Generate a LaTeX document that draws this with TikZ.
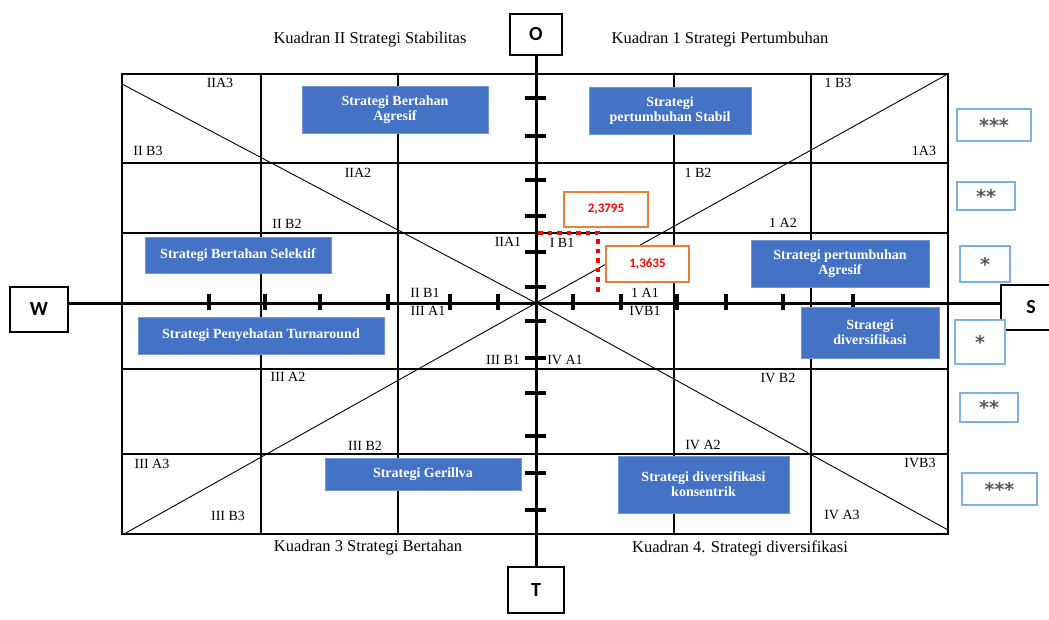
\documentclass[tikz,border=0pt]{standalone}
\usepackage{fontspec}
\setmainfont{Liberation Serif}
\newfontfamily\calibri{Carlito}
\newfontfamily\dejavu{DejaVu Sans}
\usepackage{tikz}
\definecolor{biru}{HTML}{4472C4}
\definecolor{birumuda}{HTML}{7FB0E0}
\definecolor{oranye}{HTML}{ED7D31}
\definecolor{abu}{HTML}{595959}

\tikzset{
  garis/.style={line width=1.3pt},
  diag/.style={line width=0.9pt},
  sumbu/.style={line width=3pt},
  tik/.style={line width=3.5pt},
  lab/.style={font=\fontsize{14}{16}\selectfont, inner sep=0pt},
  judul/.style={font=\fontsize{16.5}{18}\selectfont, inner sep=0pt},
  strat/.style={draw=biru!75!white, line width=0.8pt, fill=biru, text=white, align=center,
    font=\bfseries\fontsize{14}{15}\selectfont, inner sep=1pt},
  nilai/.style={draw=oranye, line width=1.2pt, fill=white, text=red,
    font=\calibri\bfseries\fontsize{13}{15}\selectfont},
  bintang/.style={draw=birumuda, line width=1.5pt, fill=white, text=abu,
    font=\dejavu\bfseries\fontsize{19}{20}\selectfont},
  huruf/.style={draw, line width=2.5pt, fill=white, font=\calibri\bfseries\fontsize{20}{22}\selectfont}
}
\newcommand{\bint}[1]{\raisebox{-0.65ex}{#1}}

\begin{document}
\begin{tikzpicture}[x=1pt,y=-1pt]
  \useasboundingbox (0,0) rectangle (1049,620);
  \coordinate (pusat) at (536,303);

  % kotak kuadran
  \draw[garis] (122,74) rectangle (948,534);
  \foreach \x in {261,398,674,811} \draw[garis] (\x,74) -- (\x,534);
  \foreach \y in {163,233,369,454} \draw[garis] (122,\y) -- (948,\y);

  % garis diagonal
  \draw[diag] (122,84) -- (pusat) -- (948,530);
  \draw[diag] (124,534) -- (pusat) -- (946,75);

  % sumbu
  \node[huruf, minimum width=52, minimum height=41] (O) at (536,34.5) {O};
  \node[huruf, minimum width=56, minimum height=46] (T) at (536,590) {T};
  \node[huruf, minimum width=58, minimum height=45] (W) at (39,309.5) {W};
  \node[huruf, minimum width=60, minimum height=45] (S) at (1031,307.5) {S};
  \draw[sumbu] (W.east |- pusat) -- (S.west |- pusat);
  \draw[sumbu] (O.south) -- (T.north);
  \foreach \y in {98,136,180,216,252,287,321,358,393,436,473,510}
    \draw[tik] (525,\y) -- (546,\y);
  \foreach \x in {209,265,320,388,450,498,573,621,677,726,783,853}
    \draw[tik] (\x,294) -- (\x,310);

  % titik posisi
  \coordinate (titik) at (598,233);
  \draw[red, line width=4.5pt, dash pattern=on 4.5pt off 5pt] (538,233) -- (titik) -- (598,293);

  % judul kuadran
  \node[judul] (k2) at (370,40) {Kuadran II Strategi Stabilitas};
  \node[judul] (k1) at (720,40) {Kuadran 1 Strategi Pertumbuhan};
  \node[judul] (k3) at (368,548) {Kuadran 3 Strategi Bertahan};
  \node[judul] (k4) at (740,548) {Kuadran 4. Strategi diversifikasi};

  % label sel
  \node[lab] (IIA3) at (220,83) {IIA3};
  \node[lab] (IIB3) at (148,151) {II B3};
  \node[lab] (IIA2) at (358,173) {IIA2};
  \node[lab] (IIB2) at (287,224) {II B2};
  \node[lab] (IIA1) at (508,242) {IIA1};
  \node[lab] (IIB1) at (425,293) {II B1};
  \node[lab] (IIIA1) at (428,311) {III A1};
  \node[lab] (IIIB1) at (503,360) {III B1};
  \node[lab] (IIIA2) at (288,377) {III A2};
  \node[lab] (IIIB2) at (365,446) {III B2};
  \node[lab] (IIIA3) at (152,464) {III A3};
  \node[lab] (IIIB3) at (228,516) {III B3};
  \node[lab] (IVA1) at (565,360) {IV A1};
  \node[lab] (IVB1) at (645,311) {IVB1};
  \node[lab] (IVB2) at (778,378) {IV B2};
  \node[lab] (IVA2) at (703,445) {IV A2};
  \node[lab] (IVB3) at (920,463) {IVB3};
  \node[lab] (IVA3) at (842,515) {IV A3};
  \node[lab] (IA1) at (645,293) {1 A1};
  \node[lab] (IB1) at (562,243) {I B1};
  \node[lab] (IA2) at (783,223) {1 A2};
  \node[lab] (IB2) at (698,173) {1 B2};
  \node[lab] (IB3) at (838,83) {1 B3};
  \node[lab] (IA3) at (924,151) {1A3};

  % strategi
  \node[strat, minimum width=186, minimum height=47] (agresif2) at (395,109.5) {Strategi Bertahan\\Agresif};
  \node[strat, minimum width=162, minimum height=47] (stabil) at (670,110.5) {Strategi\\pertumbuhan Stabil};
  \node[strat, minimum width=186, minimum height=36] (selektif) at (238,255) {Strategi Bertahan Selektif};
  \node[strat, minimum width=178, minimum height=47] (agresif1) at (840,263.5) {Strategi pertumbuhan\\Agresif};
  \node[strat, minimum width=246, minimum height=37] (turnaround) at (261,335.5) {Strategi Penyehatan Turnaround};
  \node[strat, minimum width=138, minimum height=51] (divers) at (870,332.5) {Strategi\\diversifikasi};
  \node[strat, minimum width=196, minimum height=32] (gerilya) at (423,474) {Strategi Gerillva};
  \node[strat, minimum width=171, minimum height=57] (konsentrik) at (703.5,484.5) {Strategi diversifikasi\\konsentrik};

  % nilai
  \node[nilai, minimum width=84, minimum height=35] (nilaiY) at (606,209.5) {2,3795};
  \node[nilai, minimum width=83, minimum height=36] (nilaiX) at (647.5,264) {1,3635};

  % bintang
  \node[bintang, minimum width=74, minimum height=32] (b1) at (994,125) {\bint{***}};
  \node[bintang, minimum width=58, minimum height=28] (b2) at (986,196) {\bint{**}};
  \node[bintang, minimum width=50, minimum height=36] (b3) at (985,264) {\bint{*}};
  \node[bintang, minimum width=50, minimum height=44] (b4) at (980,342) {\bint{*}};
  \node[bintang, minimum width=58, minimum height=29] (b5) at (989,407.5) {\bint{**}};
  \node[bintang, minimum width=75, minimum height=32] (b6) at (999.5,489) {\bint{***}};
\end{tikzpicture}
\end{document}
